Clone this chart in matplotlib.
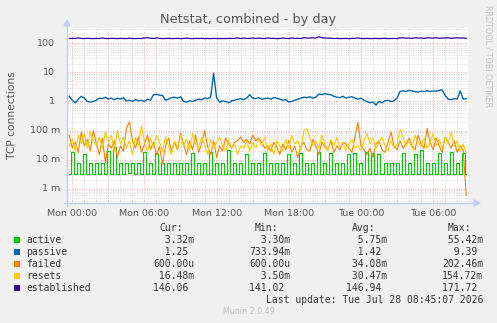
import matplotlib
matplotlib.use('Agg')
import matplotlib.pyplot as plt
import numpy as np
from matplotlib.transforms import blended_transform_factory
from matplotlib.patches import Rectangle, Polygon
from matplotlib.lines import Line2D

# ---------------- data ----------------
t_start_h = -0.25      # hours relative to Mon 00:00
t_step_h = 0.25        # 15-minute samples

active_m = [3.3, 18, 3.3, 8, 3.3, 16, 3.3, 8, 3.3, 8, 3.3, 7.5, 3.3, 20, 3.3, 28, 3.3, 8, 3.3, 8,
            3.4, 7.5, 3.3, 8, 3.3, 18, 3.3, 8, 3.3, 17, 3.3, 8, 3.3, 7.5, 3.3, 8, 3.3, 8, 3.3, 8,
            3.3, 17, 3.3, 8, 3.3, 8, 3.3, 19, 3.3, 8, 3.3, 8, 3.3, 22, 3.3, 8, 3.3, 8, 3.3, 16,
            3.3, 8, 3.3, 8, 3.3, 17, 3.3, 8, 3.3, 8, 3.3, 8, 3.3, 16, 3.3, 8, 3.3, 17, 3.3, 8,
            3.3, 8, 3.3, 18, 3.3, 8, 3.3, 17, 3.3, 8, 3.3, 8, 3.3, 16, 3.3, 17, 3.3, 8, 3.3, 18,
            3.3, 17, 3.3, 16, 3.3, 8, 3.3, 8, 3.3, 8, 3.3, 17, 3.3, 8, 3.3, 16, 3.3, 22, 3.3, 8,
            3.3, 8, 3.3, 17, 3.3, 8, 3.3, 18, 3.3, 8, 3.3, 17, 3.3]

passive = [1.5, 1.1, 0.9, 1.2, 1.5, 1.3, 1.0, 0.95, 1.0, 1.1,
           1.3, 1.25, 1.4, 1.2, 1.3, 1.15, 1.3, 1.2, 1.35, 1.05,
           1.1, 1.0, 1.15, 1.05, 1.1, 1.0, 1.2, 1.1, 1.7, 1.75,
           1.65, 1.6, 1.1, 1.2, 1.35, 1.4, 1.3, 1.45, 1.0, 0.95,
           1.05, 1.0, 1.1, 1.2, 1.15, 1.3, 1.25, 1.4, 9.39, 1.3,
           0.95, 1.05, 1.0, 0.9, 1.05, 1.1, 1.2, 1.25, 1.15, 1.3,
           1.7, 1.3, 1.25, 1.35, 1.2, 1.25, 1.3, 1.2, 1.35, 1.3,
           1.2, 1.1, 1.15, 0.95, 1.0, 1.1, 1.2, 1.3, 1.4, 1.35,
           1.45, 1.3, 1.4, 1.8, 1.7, 1.85, 1.75, 1.7, 1.5, 1.4,
           1.35, 1.5, 1.3, 1.4, 1.45, 1.3, 1.2, 1.3, 1.1, 1.0,
           0.9, 0.95, 0.75, 1.0, 0.9, 1.05, 1.1, 1.0, 1.05, 1.3,
           2.2, 2.3, 2.2, 2.4, 2.3, 2.2, 2.1, 2.25, 2.2, 2.3,
           2.2, 2.3, 2.25, 2.4, 2.5, 1.6, 1.2, 1.15, 1.25, 1.2,
           2.3, 1.2, 1.25]

failed_m = [70, 25, 40, 18, 90, 30, 50, 20, 100, 35,
            15, 55, 8, 35, 25, 45, 12, 30, 20, 120,
            200, 45, 25, 60, 18, 35, 70, 22, 40, 15,
            28, 7, 30, 55, 20, 40, 22, 80, 35, 15,
            45, 22, 70, 18, 35, 100, 28, 15, 45, 12,
            30, 20, 55, 35, 25, 40, 45, 60, 40, 50,
            35, 70, 45, 55, 40, 25, 30, 20, 40, 28,
            15, 35, 22, 45, 18, 30, 12, 28, 40, 22,
            20, 50, 30, 15, 40, 28, 22, 45, 18, 30,
            22, 40, 35, 25, 18, 60, 190, 30, 22, 15,
            25, 12, 35, 45, 22, 18, 40, 90, 30, 22,
            45, 25, 35, 55, 30, 22, 70, 35, 25, 120,
            40, 22, 55, 30, 18, 60, 40, 25, 45, 18,
            30, 22, 0.6]

resets_m = [30, 50, 20, 70, 35, 80, 25, 90, 45, 30,
            60, 25, 90, 40, 70, 20, 100, 35, 60, 25,
            45, 15, 60, 30, 150, 40, 20, 55, 25, 70,
            40, 20, 60, 30, 15, 45, 25, 70, 30, 50,
            20, 80, 35, 25, 60, 30, 15, 50, 25, 40,
            60, 30, 20, 45, 25, 35, 15, 30, 25, 45,
            20, 40, 25, 50, 30, 60, 20, 35, 15, 45,
            30, 20, 50, 25, 70, 35, 45, 20, 100, 120,
            60, 30, 45, 25, 70, 35, 20, 50, 30, 60,
            25, 40, 20, 35, 50, 25, 30, 20, 45, 80,
            35, 55, 25, 40, 60, 30, 20, 45, 25, 35,
            110, 60, 30, 45, 25, 70, 40, 30, 55, 25,
            40, 80, 30, 50, 25, 60, 35, 90, 30, 45,
            20, 35, 16.5]

established = [144, 146, 144, 150, 145, 143, 147, 144, 143, 145,
               144, 150, 144, 143, 146, 144, 143, 145, 144, 143,
               147, 144, 143, 145, 144, 150, 152, 148, 144, 150,
               145, 143, 144, 146, 143, 144, 145, 143, 144, 148,
               144, 143, 145, 144, 146, 143, 144, 143, 145, 144,
               143, 144, 143, 145, 144, 146, 150, 144, 148, 144,
               145, 150, 144, 148, 145, 144, 150, 145, 146, 143,
               144, 149, 145, 143, 150, 144, 147, 144, 152, 150,
               148, 152, 150, 165, 154, 150, 148, 145, 144, 146,
               143, 144, 145, 143, 144, 146, 150, 144, 143, 145,
               143, 144, 145, 143, 144, 146, 143, 144, 145, 143,
               150, 152, 148, 150, 145, 152, 149, 150, 146, 152,
               150, 148, 152, 147, 150, 149, 152, 146, 150, 151,
               149, 150, 146]

series_names = ['active', 'passive', 'failed', 'resets', 'established']
series_colors = ['#00CC00', '#0066B3', '#FF8000', '#FFCC00', '#330099']

xtick_hours = [0, 6, 12, 18, 24, 30]
xtick_labels = ['Mon 00:00', 'Mon 06:00', 'Mon 12:00', 'Mon 18:00', 'Tue 00:00', 'Tue 06:00']
ytick_vals = [100, 10, 1, 0.1, 0.01, 0.001]
ytick_labels = ['100', '10', '1', '100 m', '10 m', '1 m']

cur_vals = ['3.32m', '1.25', '600.00u', '16.48m', '146.06']
min_vals = ['3.30m', '733.94m', '600.00u', '3.50m', '141.02']
avg_vals = ['5.75m', '1.42', '34.08m', '30.47m', '146.94']
max_vals = ['55.42m', '9.39', '202.46m', '154.72m', '171.72']
col_headers = ['Cur:', 'Min:', 'Avg:', 'Max:']

title = 'Netstat, combined - by day'
ylabel = 'TCP connections'
last_update = 'Last update: Tue Jul 28 08:45:07 2026'
footer = 'Munin 2.0.49'
side_text = 'RRDTOOL / TOBI OETIKER'

# ---------------- figure ----------------
W, H = 497, 323
fig = plt.figure(figsize=(W / 100, H / 100), dpi=100, facecolor='#F0F0F0')
L, R, T, B = 67, 468, 28, 203
ax = fig.add_axes([L / W, 1 - B / H, (R - L) / W, (B - T) / H])
ax.set_facecolor('white')
ax.set_yscale('log')
ax.set_ylim(3.3e-4, 330)
ax.set_xlim(-0.44, 32.9)
for s in ax.spines.values():
    s.set_visible(False)


def fx(x):
    return x / W


def fy(y):
    return 1 - y / H


# grid
minor_c = '#dadada'
major_c = '#f0b4b4'
dots = (0, (1, 1.4))
for h in range(0, 33):
    c = major_c if h % 3 == 0 else minor_c
    ax.axvline(h, color=c, lw=0.72, ls=dots, zorder=1)
for d in range(-4, 3):
    for k in range(1, 10):
        v = k * 10.0 ** d
        if 3.3e-4 < v < 330:
            c = major_c if k == 1 else minor_c
            ax.axhline(v, color=c, lw=0.72, ls=dots, zorder=1)

n = len(passive)
t = t_start_h + t_step_h * np.arange(n)
data = [np.array(active_m) * 1e-3, np.array(passive), np.array(failed_m) * 1e-3,
        np.array(resets_m) * 1e-3, np.array(established)]
widths = [0.8, 1.0, 0.8, 0.8, 0.9]
for name, col, y, lw in zip(series_names, series_colors, data, widths):
    ds = 'steps-mid' if name == 'active' else 'default'
    ax.plot(t[:len(y)], y, color=col, lw=lw, drawstyle=ds, zorder=3)

# axes ticks / labels
ax.set_xticks(xtick_hours)
ax.set_xticklabels(xtick_labels, fontsize=6.8, color='#555555')
ax.tick_params(axis='x', length=0, pad=4)
ax.set_yticks([])
ax.minorticks_off()
ax.set_yticks([], minor=True)
trans = blended_transform_factory(fig.transFigure, ax.transData)
for v, lab in zip(ytick_vals, ytick_labels):
    xe = 60 if lab.endswith('m') else 54.5
    ax.text(fx(xe), v, lab, transform=trans, ha='right', va='center',
            fontsize=6.8, color='#555555')

# axis lines with arrows
axis_c = '#c4ccf4'
fig.add_artist(Line2D([fx(L), fx(L)], [fy(B + 3), fy(24)], color=axis_c, lw=1))
fig.add_artist(Line2D([fx(L - 3), fx(R + 8)], [fy(B), fy(B)], color=axis_c, lw=1))
fig.add_artist(Polygon([[fx(L - 3), fy(26)], [fx(L + 3), fy(26)], [fx(L), fy(20)]],
                       closed=True, color=axis_c))
fig.add_artist(Polygon([[fx(R + 6), fy(B - 3)], [fx(R + 6), fy(B + 3)], [fx(R + 12), fy(B)]],
                       closed=True, color=axis_c))

# texts
fig.text(fx(248), fy(19.5), title, ha='center', va='center', fontsize=9.3, color='#555555')
fig.text(fx(12), fy(115.5), ylabel, ha='center', va='center', rotation=90,
         fontsize=7.7, color='#555555')
fig.text(fx(488), fy(5), side_text, ha='center', va='top', rotation=270,
         fontsize=5.8, color='#c4c4c4')
fig.text(fx(249), fy(312), footer, ha='center', va='center', fontsize=5.8, color='#c4c4c4')

# legend
mono = 'DejaVu Sans Mono'
fs = 7
cw = fs / 72 * 100 * 0.602
col_ends = [194, 290, 387, 483]
row_y = [240, 252, 264, 276, 287.6]
for j, hdr in enumerate(col_headers):
    x0 = col_ends[j] - 7 * cw
    fig.text(fx(x0 + cw), fy(228.3), hdr, ha='left', va='center', family=mono,
             fontsize=fs, color='#333333')


def fmt(s):
    if s[-1].isalpha():
        return s.rjust(7)
    return s.rjust(6) + ' '


for i, name in enumerate(series_names):
    y = row_y[i]
    fig.patches.append(Rectangle((fx(14), fy(y + 3)), 6 / W, 6 / H,
                                 transform=fig.transFigure, facecolor=series_colors[i],
                                 edgecolor='none'))
    fig.text(fx(26.5), fy(y), name, ha='left', va='center', family=mono,
             fontsize=fs, color='#333333')
    for j, vals in enumerate([cur_vals, min_vals, avg_vals, max_vals]):
        x0 = col_ends[j] - 7 * cw
        fig.text(fx(x0), fy(y), fmt(vals[i]).replace(' ', '\u00a0'), ha='left', va='center',
                 family=mono, fontsize=fs, color='#333333')

fig.text(fx(483), fy(299.6), last_update, ha='right', va='center', family=mono,
         fontsize=fs, color='#333333')

fig.savefig('out.png', dpi=100, facecolor=fig.get_facecolor())
